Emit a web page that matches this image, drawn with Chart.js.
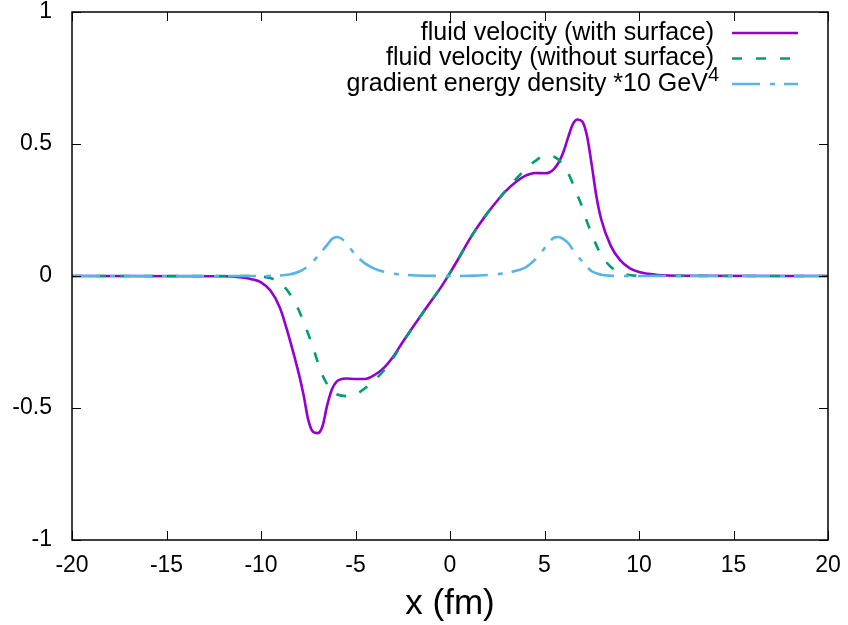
<!DOCTYPE html>
<html>
<head>
<meta charset="utf-8">
<script src="https://cdn.jsdelivr.net/npm/chart.js@4.4.1/dist/chart.umd.min.js"></script>
<style>
  html, body { margin: 0; padding: 0; background: #fff; }
  #wrap { width: 848px; height: 625px; }
</style>
</head>
<body>
<div id="wrap"><canvas id="velocityChart" width="848" height="625"></canvas></div>
<script>
// series labels ("^" marks a superscript part)
const seriesLabels = [
  "fluid velocity (with surface)",
  "fluid velocity (without surface)",
  "gradient energy density *10 GeV^4",
];

// fluid velocity with surface
const withX = [-20, -12, -11, -10.5, -10, -9.5, -9, -8.5, -8, -7.75, -7.5, -7.25, -7, -6.75, -6.5,
  -6.25, -6, -5.5, -5, -4.5, -4, -3.5, -3, -2.5, -2, -1.5, -1, -0.5, 0, 0.5,
  1, 1.5, 2, 2.5, 3, 3.5, 4, 4.5, 5, 5.25, 5.5, 5.75, 6, 6.25, 6.5,
  6.75, 7, 7.25, 7.5, 7.75, 8, 8.5, 9, 9.5, 10, 10.5, 11, 12, 20];
const withY = [0, -0.001, -0.006, -0.012, -0.024, -0.055, -0.12, -0.235, -0.37, -0.45, -0.545, -0.59, -0.595, -0.57, -0.49,
  -0.43, -0.4, -0.388, -0.39, -0.39, -0.375, -0.348, -0.305, -0.25, -0.197, -0.146, -0.095, -0.045, 0.012, 0.072,
  0.135, 0.19, 0.24, 0.285, 0.325, 0.357, 0.38, 0.39, 0.389, 0.392, 0.405, 0.43, 0.47, 0.525, 0.575,
  0.593, 0.585, 0.53, 0.42, 0.3, 0.215, 0.115, 0.06, 0.03, 0.015, 0.008, 0.004, 0.001, 0];

// fluid velocity without surface
const withoutX = [-20, -10.5, -10, -9.5, -9, -8.5, -8, -7.5, -7.25, -7, -6.75, -6.5, -6.25, -6, -5.5,
  -5, -4.5, -4, -3.5, -3, -2.5, -2, -1.5, -1, -0.5, 0, 0.5, 1, 1.5, 2,
  2.5, 3, 3.5, 4, 4.5, 5, 5.5, 5.75, 6, 6.25, 6.5, 6.75, 7, 7.25, 7.5,
  7.75, 8, 8.5, 9, 9.5, 10, 20];
const withoutY = [0, 0, -0.002, -0.008, -0.025, -0.065, -0.13, -0.22, -0.27, -0.325, -0.375, -0.41, -0.435, -0.448, -0.455,
  -0.45, -0.425, -0.395, -0.358, -0.31, -0.252, -0.198, -0.146, -0.095, -0.045, 0.012, 0.072, 0.135, 0.19, 0.24,
  0.285, 0.328, 0.368, 0.405, 0.435, 0.455, 0.452, 0.44, 0.42, 0.39, 0.35, 0.305, 0.26, 0.205, 0.16,
  0.115, 0.08, 0.035, 0.012, 0.004, 0.001, 0];

// gradient energy density (x10)
const gradX = [-20, -10, -9, -8.5, -8, -7.5, -7, -6.5, -6.25, -6, -5.75, -5.5, -5, -4.5, -4,
  -3.5, -3, -2.5, -2, -1, 0, 1, 2, 2.5, 3, 3.5, 4, 4.5, 5, 5.25,
  5.5, 5.75, 6, 6.25, 6.5, 7, 7.5, 8, 8.5, 9, 10, 20];
const gradY = [0, 0, 0.002, 0.006, 0.016, 0.038, 0.075, 0.118, 0.14, 0.148, 0.142, 0.125, 0.08, 0.048, 0.028,
  0.016, 0.009, 0.005, 0.003, 0.001, 0, 0.001, 0.004, 0.007, 0.012, 0.02, 0.033, 0.062, 0.105, 0.128,
  0.145, 0.148, 0.14, 0.125, 0.1, 0.055, 0.018, 0.005, 0.001, 0, 0, 0];

// axis ticks
const xTicks = [-20, -15, -10, -5, 0, 5, 10, 15, 20];
const yTicks = [-1, -0.5, 0, 0.5, 1];

const FONT = "'Liberation Sans', Arial, sans-serif";

function toPoints(xs, ys) {
  return xs.map((x, i) => ({ x: x, y: ys[i] }));
}

/**
 * gnuplot-like frame: full border plus inward ticks on all four sides
 */
const framePlugin = {
  id: "frame",
  afterDraw(chart) {
    const { ctx, chartArea: a, scales } = chart;
    const len = 9;
    ctx.save();
    ctx.strokeStyle = "#000";
    ctx.lineWidth = 1;
    ctx.beginPath();
    xTicks.forEach((v) => {
      const px = Math.round(scales.x.getPixelForValue(v)) + 0.5;
      ctx.moveTo(px, a.bottom); ctx.lineTo(px, a.bottom - len);
      ctx.moveTo(px, a.top); ctx.lineTo(px, a.top + len);
    });
    yTicks.forEach((v) => {
      const py = Math.round(scales.y.getPixelForValue(v)) + 0.5;
      ctx.moveTo(a.left, py); ctx.lineTo(a.left + len, py);
      ctx.moveTo(a.right, py); ctx.lineTo(a.right - len, py);
    });
    ctx.stroke();
    ctx.lineWidth = 1.5;
    ctx.strokeRect(a.left, a.top, a.right - a.left, a.bottom - a.top);
    ctx.restore();
  },
};

/**
 * Legend in the top right corner: right aligned text, sample line after it
 */
const keyPlugin = {
  id: "key",
  afterDraw(chart) {
    const { ctx, chartArea: a } = chart;
    const textRight = a.right - 114;
    const lineStart = a.right - 96;
    const lineEnd = a.right - 30;
    ctx.save();
    ctx.textBaseline = "middle";
    chart.data.datasets.forEach((ds, i) => {
      const y = a.top + 21 + i * 25.5;
      const parts = ds.label.split("^");
      ctx.fillStyle = "#000";
      ctx.font = "25px " + FONT;
      const mainW = ctx.measureText(parts[0]).width;
      let supW = 0;
      if (parts[1]) {
        ctx.font = "20px " + FONT;
        supW = ctx.measureText(parts[1]).width;
      }
      const right = parts[1] ? textRight + 5 : textRight;
      ctx.font = "25px " + FONT;
      ctx.textAlign = "left";
      ctx.fillText(parts[0], right - supW - mainW, y);
      if (parts[1]) {
        ctx.font = "20px " + FONT;
        ctx.fillText(parts[1], right - supW, y - 9);
      }
      ctx.strokeStyle = ds.borderColor;
      ctx.lineWidth = ds.borderWidth;
      ctx.setLineDash(ds.borderDash || []);
      ctx.beginPath();
      ctx.moveTo(lineStart, y);
      ctx.lineTo(lineEnd, y);
      ctx.stroke();
    });
    ctx.restore();
  },
};

const commonLine = {
  pointRadius: 0,
  borderWidth: 2.6,
  fill: false,
  cubicInterpolationMode: "monotone",
};

new Chart(document.getElementById("velocityChart"), {
  type: "line",
  data: {
    datasets: [
      {
        ...commonLine,
        label: seriesLabels[0],
        data: toPoints(withX, withY),
        borderColor: "#9400d3",
        order: 2,
      },
      {
        ...commonLine,
        label: seriesLabels[1],
        data: toPoints(withoutX, withoutY),
        borderColor: "#009e73",
        borderDash: [10, 14],
        order: 1,
      },
      {
        ...commonLine,
        label: seriesLabels[2],
        data: toPoints(gradX, gradY),
        borderColor: "#56b4e9",
        borderDash: [28, 10, 5, 9],
        order: 0,
      },
    ],
  },
  options: {
    responsive: false,
    animation: false,
    layout: { padding: { top: 12, right: 20, left: 0, bottom: 0 } },
    plugins: {
      legend: { display: false },
      tooltip: { enabled: false },
    },
    scales: {
      x: {
        type: "linear",
        min: -20,
        max: 20,
        afterBuildTicks: (scale) => {
          scale.ticks = xTicks.map((v) => ({ value: v }));
        },
        afterFit: (scale) => {
          scale.height = 85;
          scale.paddingLeft = 0;
          scale.paddingRight = 0;
        },
        grid: { display: false, drawTicks: false },
        border: { display: false },
        ticks: {
          padding: 12,
          color: "#000",
          font: { family: FONT, size: 23 },
          maxRotation: 0,
          callback: (v) => String(v),
        },
        title: {
          display: true,
          text: "x (fm)",
          color: "#000",
          font: { family: FONT, size: 35 },
          padding: { top: 3, bottom: 0 },
        },
      },
      y: {
        type: "linear",
        min: -1,
        max: 1,
        afterBuildTicks: (scale) => {
          scale.ticks = yTicks.map((v) => ({ value: v }));
        },
        afterFit: (scale) => {
          scale.width = 72;
          scale.paddingTop = 0;
          scale.paddingBottom = 0;
        },
        grid: { display: false, drawTicks: false },
        border: { display: false },
        ticks: {
          padding: 20,
          color: "#000",
          font: { family: FONT, size: 23 },
          callback: (v) => String(v),
        },
      },
    },
  },
  plugins: [framePlugin, keyPlugin],
});
</script>
</body>
</html>
